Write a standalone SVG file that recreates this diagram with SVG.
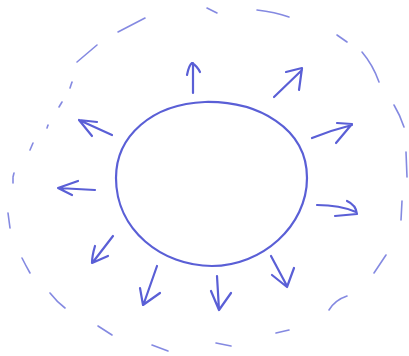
<svg xmlns="http://www.w3.org/2000/svg" width="409" height="356" viewBox="0 0 409 356">
<style>
.ink{fill:none;stroke:#5a5fd6;stroke-width:2.2;stroke-linecap:round;stroke-linejoin:round}
.dash{fill:none;stroke:#6f74dc;stroke-width:1.6;stroke-linecap:round;opacity:0.85}
</style>
<rect width="409" height="356" fill="#ffffff"/>
<g id="core">
<path class="ink" d="M116,178 C116,136 152,104 205,102 C258,101 307,128 307,178 C307,226 262,266 212,266 C162,266 116,230 116,178 Z"/>
</g>
<g id="halo">
<path class="dash" d="M118,32 L145,18"/>
<path class="dash" d="M77,62 L97,45"/>
<path class="dash" d="M70,88 L72,82"/>
<path class="dash" d="M59,107 L62,102"/>
<path class="dash" d="M47,128 L48,125"/>
<path class="dash" d="M30,150 L33,143"/>
<path class="dash" d="M13,177 L14,173"/>
<path class="dash" d="M13,178 L13,183"/>
<path class="dash" d="M8,213 L10,228"/>
<path class="dash" d="M22,258 Q26,266 30,273"/>
<path class="dash" d="M50,293 Q57,302 65,308"/>
<path class="dash" d="M98,326 L112,335"/>
<path class="dash" d="M152,345 L168,351"/>
<path class="dash" d="M216,343 L231,346"/>
<path class="dash" d="M276,333 L289,330"/>
<path class="dash" d="M329,310 Q335,300 347,296"/>
<path class="dash" d="M374,273 L386,255"/>
<path class="dash" d="M401,220 L402,201"/>
<path class="dash" d="M406,152 L407,177"/>
<path class="dash" d="M394,105 Q400,115 404,127"/>
<path class="dash" d="M362,52 Q373,65 379,82"/>
<path class="dash" d="M337,35 L347,42"/>
<path class="dash" d="M257,10 Q275,12 289,17"/>
<path class="dash" d="M207,8 L217,13"/>
</g>
<g id="connectors">
<path class="ink" d="M193,93 L193,63 M187,75 Q189,65 192,63 Q197,66 200,72"/>
<path class="ink" d="M274,97 L302,70 M286,72 L302,68 L299,90"/>
<path class="ink" d="M312,138 Q332,130 352,125 M337,123 L352,124 L336,143"/>
<path class="ink" d="M317,205 Q340,205 356,212 M347,201 Q356,205 357,214 L335,216"/>
<path class="ink" d="M271,256 L287,286 M272,275 L287,287 L294,268"/>
<path class="ink" d="M217,276 L219,310 M211,291 L219,310 L231,293"/>
<path class="ink" d="M157,266 L144,303 M140,288 L143,305 L160,293"/>
<path class="ink" d="M113,236 L93,262 M95,246 Q92,256 92,263 L108,256"/>
<path class="ink" d="M95,190 L58,188 M78,181 L58,188 L72,195"/>
<path class="ink" d="M112,135 L79,120 M97,122 L79,120 L92,136"/>
</g>
</svg>
